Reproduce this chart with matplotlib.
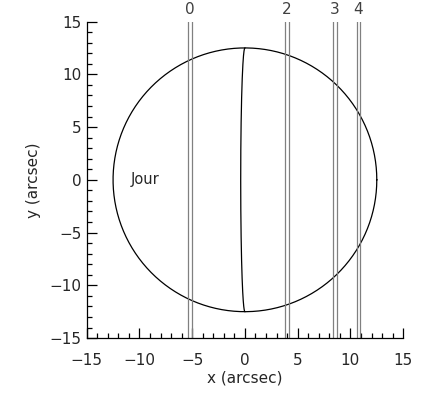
import numpy as np
import matplotlib
matplotlib.use("Agg")
import matplotlib.pyplot as plt
from matplotlib.ticker import MultipleLocator

# disc and terminator (arcsec)
disc_radius = 12.5
terminator_bulge = -0.4

# slit centres and their labels
slit_x = [-5.21, 3.98, 8.53, 10.76]
slit_labels = ["0", "2", "3", "4"]
slit_width = 0.33

txt_color = "#262626"

fig = plt.figure(figsize=(4.3, 3.94), dpi=100)
ax = fig.add_axes([0.2016, 0.142, 0.736, 0.8033])

t = np.linspace(0, 2 * np.pi, 400)
ax.plot(disc_radius * np.cos(t), disc_radius * np.sin(t), color="black", lw=0.9)

th = np.linspace(-np.pi / 2, np.pi / 2, 200)
ax.plot(terminator_bulge * np.cos(th), disc_radius * np.sin(th), color="black", lw=0.9)

for xc, lab in zip(slit_x, slit_labels):
    for dx in (-slit_width / 2, slit_width / 2):
        ax.plot([xc + dx, xc + dx], [-15, 15], color="#808080", lw=0.9)
    ax.text(xc, 15.4, lab, ha="center", va="bottom", fontsize=11, color="#404040")

ax.text(-9.5, 0, "Jour", ha="center", va="center", fontsize=10.5, color=txt_color)

ax.set_xlim(-15, 15)
ax.set_ylim(-15, 15)
ax.spines["top"].set_visible(False)
ax.spines["right"].set_visible(False)
for s in ("left", "bottom"):
    ax.spines[s].set_linewidth(0.9)
ax.xaxis.set_major_locator(MultipleLocator(5))
ax.yaxis.set_major_locator(MultipleLocator(5))
ax.xaxis.set_minor_locator(MultipleLocator(1))
ax.yaxis.set_minor_locator(MultipleLocator(1))
ax.tick_params(which="major", direction="in", length=7, width=0.9, labelsize=11,
               labelcolor=txt_color)
ax.tick_params(which="minor", direction="in", length=3.5, width=0.9)
ax.tick_params(axis="x", which="major", pad=10.5)
ax.tick_params(axis="y", which="major", pad=3.5)
ax.set_xlabel("x (arcsec)", fontsize=11, labelpad=2, color=txt_color)
ax.set_ylabel("y (arcsec)", fontsize=11, labelpad=6, color=txt_color)

fig.savefig("out.png", dpi=100)
